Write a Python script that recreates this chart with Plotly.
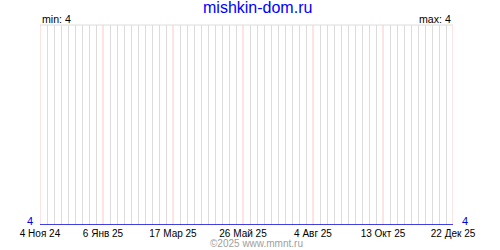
import datetime as dt
import plotly.graph_objects as go

dates = ["2024-11-04", "2025-12-22"]
values = [4, 4]
tick_vals = ["2024-11-04", "2025-01-06", "2025-03-17", "2025-05-26",
             "2025-08-04", "2025-10-13", "2025-12-22"]
tick_text = ["4 Ноя 24", "6 Янв 25", "17 Мар 25", "26 Май 25",
             "4 Авг 25", "13 Окт 25", "22 Дек 25"]
title_text = "mishkin-dom.ru"
footer_text = "©2025 www.mmnt.ru"
vmin = min(values)
vmax = max(values)

start = dt.date.fromisoformat(dates[0])
end = dt.date.fromisoformat(dates[-1])
week_grid = []
d = start
while d <= end:
    s = d.isoformat()
    if s not in tick_vals:
        week_grid.append(s)
    d += dt.timedelta(days=7)

FONT = "Liberation Sans"
PINK = "#ffc8c8"
L, R, T, B = 40, 47, 25, 25
W, H = 500, 250
pw = W - L - R

fig = go.Figure()
fig.add_trace(go.Scatter(x=dates, y=values, mode="lines",
                         line=dict(color="#0000dd", width=1.6),
                         hoverinfo="skip", showlegend=False))

major_lines = [dict(type="line", xref="x", yref="paper", x0=v, x1=v, y0=0, y1=1,
                    line=dict(color=PINK, width=1), layer="below")
               for v in tick_vals]

fig.update_layout(
    width=W, height=H,
    margin=dict(l=L, r=R, t=T, b=B, pad=0),
    paper_bgcolor="white", plot_bgcolor="white",
    font=dict(family=FONT, size=10, color="black"),
    xaxis=dict(
        type="date", range=[dates[0], dates[-1]],
        tickmode="array", tickvals=tick_vals, ticktext=tick_text,
        showgrid=False,
        ticks="", tickfont=dict(family=FONT, size=10, color="black"),
        showline=False, zeroline=False, ticklabelstandoff=1,
        minor=dict(tickmode="array", tickvals=week_grid,
                   showgrid=True, gridcolor="#dcdcdc", gridwidth=1, ticks=""),
        fixedrange=True,
    ),
    yaxis=dict(range=[vmin, vmin + 1], showgrid=False, showticklabels=False,
               zeroline=False, showline=False, ticks="", fixedrange=True),
    shapes=[dict(type="line", xref="paper", yref="paper", x0=0, x1=1, y0=1, y1=1,
                 line=dict(color="#dcdcdc", width=1), layer="below")] + major_lines,
    annotations=[
        dict(text=title_text, xref="paper", yref="paper",
             x=(257 - L) / pw, y=1, yshift=18, xanchor="center", yanchor="middle",
             showarrow=False, font=dict(family=FONT, size=16, color="#0000ff")),
        dict(text=f"min: {vmin}", xref="paper", yref="paper", x=0, y=1, yshift=6,
             xanchor="left", yanchor="middle", showarrow=False,
             font=dict(family=FONT, size=10.6, color="black")),
        dict(text=f"max: {vmax}", xref="paper", yref="paper", x=1, y=1, yshift=6,
             xanchor="right", yanchor="middle", showarrow=False,
             font=dict(family=FONT, size=10.6, color="black")),
        dict(text=str(values[0]), xref="paper", yref="y", x=0, y=values[0],
             xshift=-10, yshift=4, xanchor="center", yanchor="middle", showarrow=False,
             font=dict(family=FONT, size=11, color="#0000dd")),
        dict(text=str(values[-1]), xref="paper", yref="y", x=1, y=values[-1],
             xshift=12, yshift=4, xanchor="center", yanchor="middle", showarrow=False,
             font=dict(family=FONT, size=11, color="#0000dd")),
        dict(text=footer_text, xref="paper", yref="paper",
             x=(256 - L) / pw, y=0, yshift=-18, xanchor="center", yanchor="middle",
             showarrow=False, font=dict(family=FONT, size=10, color="#a0a0a0")),
    ],
)

fig.write_html("out.html")
